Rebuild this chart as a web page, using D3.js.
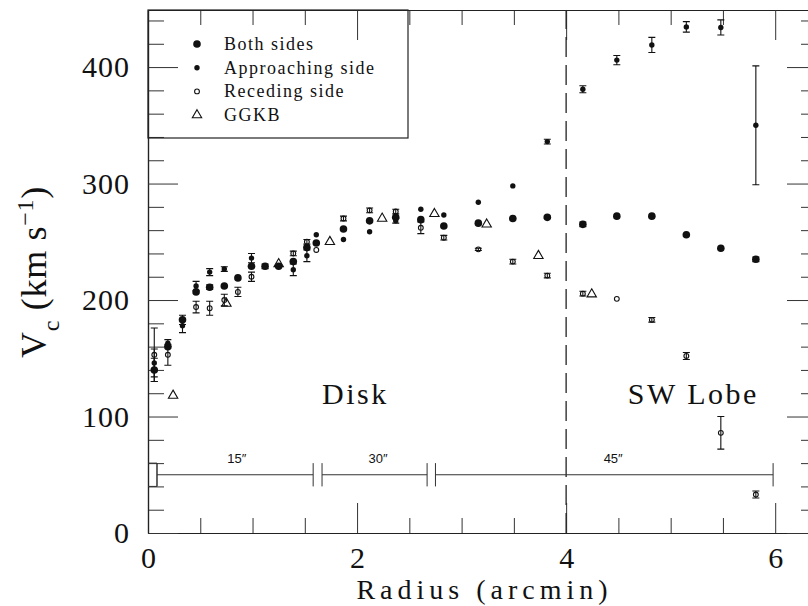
<!DOCTYPE html>
<html>
<head>
<meta charset="utf-8">
<script src="https://cdn.jsdelivr.net/npm/d3@7"></script>
<style>
  body { margin: 0; background: #fff; }
  svg { display: block; }
  text { font-family: "Liberation Serif", "Times New Roman", serif; fill: #111; }
</style>
</head>
<body>
<div id="chart"></div>
<script>
// rotation curve: [radius (arcmin), Vc (km/s), half error bar]
var bothSides = [
  [0.06, 140, 10], [0.19, 160, 0], [0.33, 183, 4], [0.46, 207, 0], [0.59, 211, 2],
  [0.73, 212, 0], [0.86, 219, 0], [0.99, 229, 0], [1.12, 229, 2], [1.25, 229, 0],
  [1.39, 233, 0], [1.52, 245, 0], [1.61, 249, 0], [1.87, 261, 0], [2.12, 268, 0],
  [2.37, 271, 0], [2.61, 269, 0], [2.83, 263.5, 0], [3.16, 266, 0], [3.49, 270, 0],
  [3.82, 271, 1], [4.16, 265, 2], [4.485, 272, 0], [4.82, 272, 0], [5.15, 256, 0],
  [5.48, 244.5, 0], [5.815, 235, 2]
];
var approaching = [
  [0.06, 146, 12], [0.19, 163, 3], [0.33, 178, 6], [0.46, 212, 4], [0.59, 224, 3],
  [0.73, 226.6, 2], [0.99, 236, 4], [1.39, 226, 5], [1.52, 238, 5], [1.61, 256, 0],
  [1.87, 252, 0], [2.12, 258.6, 0], [2.37, 268, 2], [2.61, 278, 0], [2.83, 273, 0],
  [3.16, 284, 0], [3.49, 298, 0], [3.82, 336, 2], [4.16, 381, 3], [4.485, 406, 4],
  [4.82, 419, 6.5], [5.15, 434.5, 4.5], [5.48, 434, 6.5], [5.815, 350, 51]
];
var receding = [
  [0.06, 153, 23], [0.19, 153, 9], [0.46, 194, 5], [0.59, 193, 6], [0.73, 200, 5],
  [0.86, 207, 4], [0.99, 220, 4], [1.39, 240, 2], [1.52, 250, 2], [1.61, 243, 0],
  [1.87, 270, 2], [2.12, 277, 2], [2.37, 276, 2], [2.61, 262, 5], [2.83, 253.5, 2],
  [3.16, 243.5, 1], [3.49, 233, 2], [3.82, 221, 2], [4.16, 205.5, 2], [4.485, 201, 0],
  [4.82, 183, 2], [5.15, 152, 3], [5.48, 86, 14], [5.815, 33, 3]
];
var ggkb = [
  [0.24, 118], [0.75, 197], [1.25, 231], [1.74, 250], [2.24, 270],
  [2.74, 274], [3.24, 265], [3.735, 238], [4.245, 205]
];
// beam size bars: [from, to, label position, label]
var beamBars = [
  [0.086, 1.58, 0.85, "15\u2033"],
  [1.665, 2.67, 2.2, "30\u2033"],
  [2.75, 5.98, 4.45, "45\u2033"]
];
var beamLevel = 50;
var lobeBoundary = 4;
var xMajor = [0, 2, 4, 6];
var yMajor = [0, 100, 200, 300, 400];
var legendNames = ["Both sides", "Approaching side", "Receding side", "GGKB"];

var svgWidth = 808;
var svgHeight = 606;
var margin = { top: 10, right: -9, bottom: 73, left: 148 };

var svg = d3.select("#chart")
  .append("svg")
  .attr("width", svgWidth)
  .attr("height", svgHeight);

var x = d3.scaleLinear()
  .domain([0, 6.4])
  .range([margin.left, svgWidth - margin.right]);

var y = d3.scaleLinear()
  .domain([0, 449])
  .range([svgHeight - margin.bottom, margin.top]);

var x0 = x.range()[0], x1 = x.range()[1];
var y0 = y.range()[0], y1 = y.range()[1];

var xMinor = d3.range(0.5, 6.4, 0.5).filter(d => xMajor.indexOf(d) < 0);
var yMinor = d3.range(20, 449, 20).filter(d => yMajor.indexOf(d) < 0);

function styleAxis(g) {
  g.selectAll("path.domain").attr("stroke", "#222").attr("stroke-width", 1.2);
  g.selectAll(".tick line").attr("stroke", "#333").attr("stroke-width", 1);
}

// bottom
svg.append("g")
  .attr("transform", `translate(0,${y0})`)
  .call(d3.axisBottom(x).tickValues(xMinor).tickSizeInner(-15).tickSizeOuter(0).tickFormat(""))
  .call(styleAxis);
var bottomMajor = svg.append("g")
  .attr("transform", `translate(0,${y0})`)
  .call(d3.axisBottom(x).tickValues(xMajor).tickSizeInner(-30).tickSizeOuter(0).tickPadding(14).tickFormat(d3.format("d")))
  .call(styleAxis);
bottomMajor.selectAll("text")
  .style("font-family", '"Liberation Serif", serif')
  .style("font-size", "30px")
  .attr("fill", "#1a1a1a");

// top
svg.append("g")
  .attr("transform", `translate(0,${y1})`)
  .call(d3.axisTop(x).tickValues(xMinor).tickSizeInner(-15).tickSizeOuter(0).tickFormat(""))
  .call(styleAxis);
svg.append("g")
  .attr("transform", `translate(0,${y1})`)
  .call(d3.axisTop(x).tickValues(xMajor).tickSizeInner(-30).tickSizeOuter(0).tickFormat(""))
  .call(styleAxis);

// left
svg.append("g")
  .attr("transform", `translate(${x0},0)`)
  .call(d3.axisLeft(y).tickValues(yMinor).tickSizeInner(-16).tickSizeOuter(0).tickFormat(""))
  .call(styleAxis);
var leftMajor = svg.append("g")
  .attr("transform", `translate(${x0},0)`)
  .call(d3.axisLeft(y).tickValues(yMajor).tickSizeInner(-30).tickSizeOuter(0).tickPadding(18).tickFormat(d3.format("d")))
  .call(styleAxis);
leftMajor.selectAll("text")
  .style("font-family", '"Liberation Serif", serif')
  .style("font-size", "30px")
  .style("letter-spacing", "1px")
  .attr("fill", "#1a1a1a");

// right
svg.append("g")
  .attr("transform", `translate(${x1},0)`)
  .call(d3.axisRight(y).tickValues(yMinor).tickSizeInner(-16).tickSizeOuter(0).tickFormat(""))
  .call(styleAxis);
svg.append("g")
  .attr("transform", `translate(${x1},0)`)
  .call(d3.axisRight(y).tickValues(yMajor).tickSizeInner(-30).tickSizeOuter(0).tickFormat(""))
  .call(styleAxis);

// axis titles
svg.append("text")
  .attr("x", (x0 + x1) / 2 + 2)
  .attr("y", 599)
  .attr("text-anchor", "middle")
  .style("font-size", "28px")
  .style("letter-spacing", "5px")
  .text("Radius (arcmin)");

var yTitle = svg.append("text")
  .attr("transform", "translate(46,272) rotate(-90)")
  .attr("text-anchor", "middle")
  .style("font-size", "36px")
  .style("letter-spacing", "0.7px");
yTitle.append("tspan").text("V");
yTitle.append("tspan").attr("baseline-shift", "sub").style("font-size", "24px").text("c");
yTitle.append("tspan").text(" (km s");
yTitle.append("tspan").attr("baseline-shift", "super").style("font-size", "24px").text("\u22121");
yTitle.append("tspan").text(")");

// boundary between disk and SW lobe
svg.append("line")
  .attr("x1", x(lobeBoundary)).attr("x2", x(lobeBoundary))
  .attr("y1", y0).attr("y2", y1)
  .attr("stroke", "#222")
  .attr("stroke-width", 1.3)
  .attr("stroke-dasharray", "20,8");

svg.append("text")
  .attr("x", x(1.665)).attr("y", y(110.7))
  .style("font-size", "30px")
  .style("letter-spacing", "2.5px")
  .text("Disk");
svg.append("text")
  .attr("x", x(4.59)).attr("y", y(110.7))
  .style("font-size", "30px")
  .style("letter-spacing", "2.5px")
  .text("SW Lobe");

// beam size bars
var beam = svg.append("g").attr("stroke", "#333").attr("stroke-width", 1);
var capLo = y(beamLevel - 10), capHi = y(beamLevel + 10);
beam.append("path")
  .attr("fill", "none")
  .attr("d", `M${x(0)},${capHi}H${x(beamBars[0][0])}V${capLo}H${x(0)}`);
beamBars.forEach(function(b) {
  beam.append("line")
    .attr("x1", x(b[0])).attr("x2", x(b[1]))
    .attr("y1", y(beamLevel)).attr("y2", y(beamLevel));
  [b[0], b[1]].forEach(function(e) {
    beam.append("line")
      .attr("x1", x(e)).attr("x2", x(e))
      .attr("y1", capLo).attr("y2", capHi);
  });
  svg.append("text")
    .attr("x", x(b[2])).attr("y", capHi)
    .attr("text-anchor", "middle")
    .style("font-family", '"Liberation Sans", Arial, sans-serif')
    .style("font-size", "13px")
    .text(b[3]);
});

// error bars
function drawErrors(data) {
  var g = svg.append("g").attr("stroke", "#111").attr("stroke-width", 1.1);
  data.filter(d => d[2] > 0).forEach(function(d) {
    var cx = x(d[0]), lo = y(d[1] - d[2]), hi = y(d[1] + d[2]);
    g.append("path")
      .attr("fill", "none")
      .attr("d", `M${cx},${lo}V${hi}M${cx - 3.5},${lo}H${cx + 3.5}M${cx - 3.5},${hi}H${cx + 3.5}`);
  });
}
drawErrors(bothSides);
drawErrors(approaching);
drawErrors(receding);

svg.append("g").selectAll("circle")
  .data(bothSides)
  .enter()
  .append("circle")
  .attr("cx", d => x(d[0]))
  .attr("cy", d => y(d[1]))
  .attr("r", 3.8)
  .attr("fill", "#111");

svg.append("g").selectAll("circle")
  .data(approaching)
  .enter()
  .append("circle")
  .attr("cx", d => x(d[0]))
  .attr("cy", d => y(d[1]))
  .attr("r", 2.7)
  .attr("fill", "#111");

svg.append("g").selectAll("circle")
  .data(receding)
  .enter()
  .append("circle")
  .attr("cx", d => x(d[0]))
  .attr("cy", d => y(d[1]))
  .attr("r", 2.4)
  .attr("fill", "none")
  .attr("stroke", "#111")
  .attr("stroke-width", 1.1);

var tri = d3.symbol().type(d3.symbolTriangle).size(38);
svg.append("g").selectAll("path")
  .data(ggkb)
  .enter()
  .append("path")
  .attr("d", tri)
  .attr("transform", d => `translate(${x(d[0])},${y(d[1])})`)
  .attr("fill", "none")
  .attr("stroke", "#111")
  .attr("stroke-width", 1.1);

// legend
var legend = svg.append("g");
legend.append("rect")
  .attr("x", x0).attr("y", y1)
  .attr("width", 260).attr("height", 128)
  .attr("fill", "none")
  .attr("stroke", "#222")
  .attr("stroke-width", 1.2);
legendNames.forEach(function(name, i) {
  var ly = 44 + i * 23.7;
  if (i === 0) legend.append("circle").attr("cx", 197).attr("cy", ly).attr("r", 3.8).attr("fill", "#111");
  if (i === 1) legend.append("circle").attr("cx", 197).attr("cy", ly).attr("r", 2.7).attr("fill", "#111");
  if (i === 2) legend.append("circle").attr("cx", 197).attr("cy", ly).attr("r", 2.4)
    .attr("fill", "none").attr("stroke", "#111").attr("stroke-width", 1.1);
  if (i === 3) legend.append("path").attr("d", tri).attr("transform", `translate(197,${ly})`)
    .attr("fill", "none").attr("stroke", "#111").attr("stroke-width", 1.1);
  legend.append("text")
    .attr("x", 224).attr("y", ly + 6)
    .style("font-size", "18px")
    .style("letter-spacing", "1.5px")
    .text(name);
});
</script>
</body>
</html>
